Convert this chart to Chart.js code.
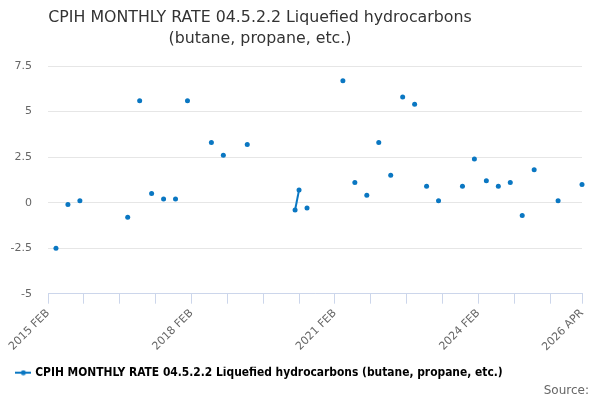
<!DOCTYPE html>
<html>
<head>
<meta charset="utf-8">
<script src="https://cdn.jsdelivr.net/npm/chart.js@4.4.1/dist/chart.umd.min.js"></script>
<style>
    html, body { margin: 0; padding: 0; background: #fff; }
    #wrap { width: 600px; height: 400px; }
</style>
</head>
<body>
<div id="wrap"><canvas id="cpihChart"></canvas></div>
<script>
const monthNames = ['JAN', 'FEB', 'MAR', 'APR', 'MAY', 'JUN', 'JUL', 'AUG', 'SEP', 'OCT', 'NOV', 'DEC'];
const firstMonth = '2015 FEB';
const lastMonth = '2026 APR';

// months that have an observation, and the value read for each
const obsMonths = [
    '2015 APR', '2015 JUL', '2015 OCT', '2016 OCT',
    '2017 JAN', '2017 APR', '2017 JUL', '2017 OCT',
    '2018 JAN', '2018 JUL', '2018 OCT', '2019 APR',
    '2020 APR', '2020 MAY', '2020 JUL', '2021 APR',
    '2021 JUL', '2021 OCT', '2022 JAN', '2022 APR',
    '2022 JUL', '2022 OCT', '2023 JAN', '2023 APR',
    '2023 OCT', '2024 JAN', '2024 APR', '2024 JUL',
    '2024 OCT', '2025 JAN', '2025 APR', '2025 OCT',
    '2026 APR'
];
const obsValues = [
    -2.5, -0.1, 0.1, -0.8,
    5.6, 0.5, 0.2, 0.2,
    5.6, 3.3, 2.6, 3.2,
    -0.4, 0.7, -0.3, 6.7,
    1.1, 0.4, 3.3, 1.5,
    5.8, 5.4, 0.9, 0.1,
    0.9, 2.4, 1.2, 0.9,
    1.1, -0.7, 1.8, 0.1,
    1.0
];

const xTickLabels = ['2015 FEB', '2018 FEB', '2021 FEB', '2024 FEB', '2026 APR'];
const xTickEvery = 9;
const yMin = -5;
const yMax = 7.5;
const yStep = 2.5;

const titleLines = ['CPIH MONTHLY RATE 04.5.2.2 Liquefied hydrocarbons', '(butane, propane, etc.)'];
const seriesName = 'CPIH MONTHLY RATE 04.5.2.2 Liquefied hydrocarbons (butane, propane, etc.)';
const sourceText = 'Source:';
const lineColor = '#0a77c2';

// every month label between the first and last
const months = [];
(function () {
    let y = parseInt(firstMonth.slice(0, 4), 10);
    let m = monthNames.indexOf(firstMonth.slice(5));
    while (true) {
        const label = y + ' ' + monthNames[m];
        months.push(label);
        if (label === lastMonth) break;
        m++;
        if (m > 11) { m = 0; y++; }
    }
})();

const seriesValues = months.map(label => {
    const i = obsMonths.indexOf(label);
    return i >= 0 ? obsValues[i] : null;
});

// legend marker: short line with a dot
function legendMarker() {
    const c = document.createElement('canvas');
    c.width = 16;
    c.height = 6;
    const g = c.getContext('2d');
    g.strokeStyle = lineColor;
    g.lineWidth = 2;
    g.beginPath();
    g.moveTo(0, 3);
    g.lineTo(16, 3);
    g.stroke();
    g.fillStyle = lineColor;
    g.beginPath();
    g.arc(8, 3, 2.5, 0, Math.PI * 2);
    g.fill();
    return c;
}

Chart.defaults.font.family = '"DejaVu Sans", sans-serif';

const ctx = document.getElementById('cpihChart').getContext('2d');
new Chart(ctx, {
    type: 'line',
    data: {
        labels: months,
        datasets: [{
            label: seriesName,
            data: seriesValues,
            borderColor: lineColor,
            backgroundColor: lineColor,
            borderWidth: 2,
            pointRadius: 2.5,
            pointBorderWidth: 0,
            pointBackgroundColor: lineColor,
            spanGaps: false,
            tension: 0
        }]
    },
    options: {
        responsive: true,
        maintainAspectRatio: false,
        animation: false,
        // title and legend sit centred a little left of the page centre
        layout: {
            padding: { left: -69, right: 11, top: 4, bottom: 2 }
        },
        plugins: {
            title: {
                display: true,
                text: titleLines,
                color: '#333333',
                font: { size: 15.8, weight: 'normal', lineHeight: 1.3 },
                padding: { top: 4, bottom: 17 }
            },
            subtitle: {
                display: true,
                text: sourceText,
                position: 'bottom',
                align: 'end',
                color: '#666666',
                font: { size: 12 },
                padding: { top: -5, bottom: 0 }
            },
            legend: {
                position: 'bottom',
                labels: {
                    usePointStyle: true,
                    pointStyleWidth: 12,
                    color: '#333333',
                    font: { family: '"DejaVu Sans Condensed", "DejaVu Sans", sans-serif', size: 11.9, weight: 'bold' },
                    padding: 0,
                    generateLabels: chart => [{
                        text: seriesName,
                        pointStyle: legendMarker(),
                        datasetIndex: 0,
                        hidden: false
                    }]
                }
            },
            tooltip: { enabled: false }
        },
        scales: {
            x: {
                type: 'category',
                afterBuildTicks: scale => {
                    const last = months.length - 1;
                    scale.ticks = scale.ticks.filter(t => t.value % xTickEvery === 0 || t.value === last);
                },
                afterFit: scale => {
                    scale.height = 73;
                    scale.paddingLeft = 48;
                    scale.paddingRight = 18;
                },
                ticks: {
                    autoSkip: false,
                    maxRotation: 45,
                    minRotation: 45,
                    color: '#666666',
                    font: { size: 11 },
                    padding: 3,
                    callback: function (value) {
                        const label = this.getLabelForValue(value);
                        return xTickLabels.includes(label) ? label : '';
                    }
                },
                grid: {
                    display: true,
                    drawOnChartArea: false,
                    drawTicks: true,
                    tickLength: 10,
                    color: '#ccd6eb'
                },
                border: { display: true, color: '#ccd6eb' }
            },
            y: {
                min: yMin,
                max: yMax,
                ticks: {
                    stepSize: yStep,
                    color: '#666666',
                    font: { size: 11 },
                    padding: 16,
                    callback: value => String(value)
                },
                grid: {
                    color: '#e6e6e6',
                    drawTicks: false
                },
                border: { display: false }
            }
        }
    }
});
</script>
</body>
</html>
